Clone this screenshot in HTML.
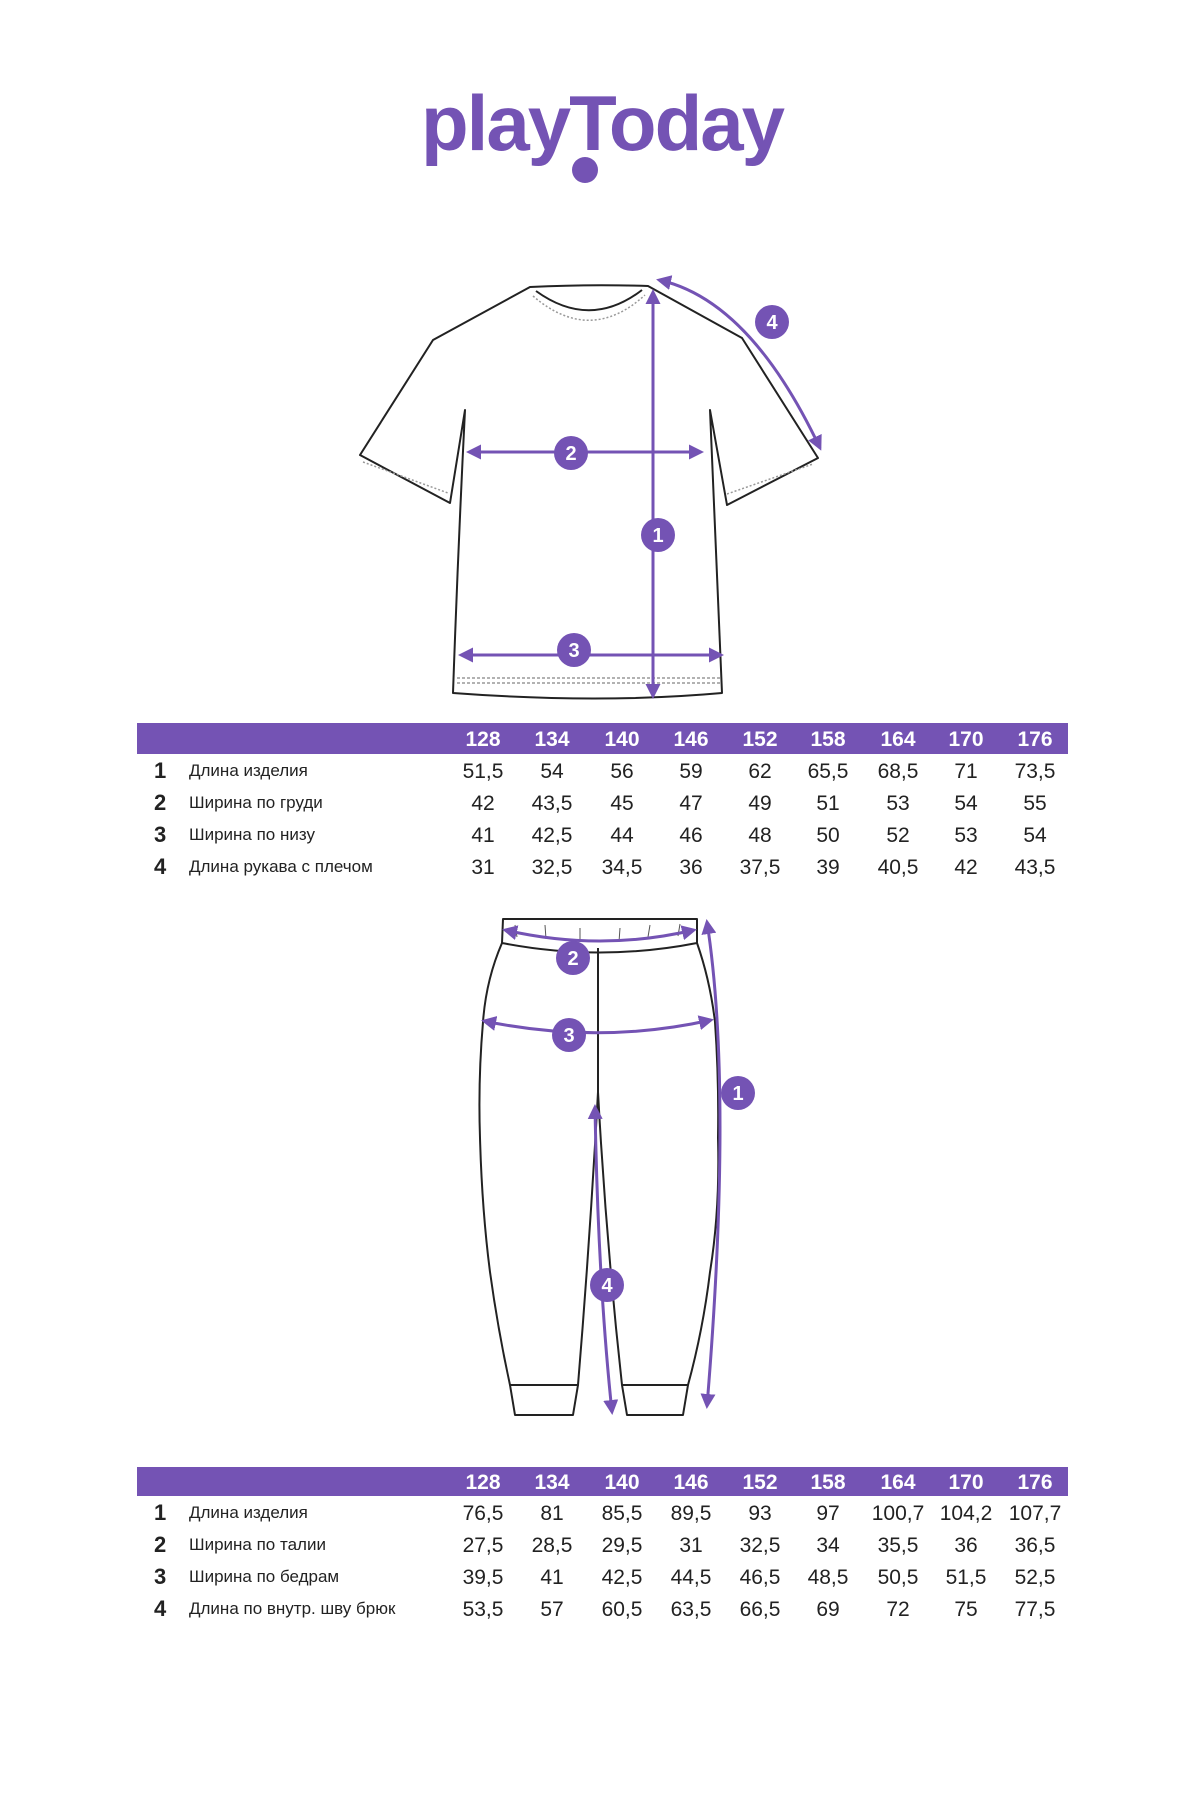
<!DOCTYPE html>
<html><head><meta charset="utf-8"><style>
html,body{margin:0;padding:0;background:#fff}
svg{display:block}
.h{font-family:"Liberation Sans",sans-serif;font-weight:bold;font-size:21px;fill:#fff;text-anchor:middle}
.v{font-family:"Liberation Sans",sans-serif;font-size:21px;fill:#222;text-anchor:middle}
.n{font-family:"Liberation Sans",sans-serif;font-weight:bold;font-size:22px;fill:#222}
.l{font-family:"Liberation Sans",sans-serif;font-size:17px;fill:#222}
.c{font-family:"Liberation Sans",sans-serif;font-weight:bold;font-size:20px;fill:#fff;text-anchor:middle}
.o{fill:none;stroke:#222;stroke-width:2;stroke-linejoin:round}
.p{fill:none;stroke:#7453b4;stroke-width:3}
</style></head><body>
<svg width="1199" height="1800" viewBox="0 0 1199 1800" xmlns="http://www.w3.org/2000/svg">
<defs>
<marker id="a" viewBox="0 0 10 10" refX="8" refY="5" markerWidth="5" markerHeight="5" orient="auto-start-reverse"><path d="M0,0 L10,5 L0,10 z" fill="#7453b4"/></marker>
</defs>
<!-- logo -->
<text x="602" y="150" text-anchor="middle" font-family="Liberation Sans,sans-serif" font-weight="bold" font-size="78" fill="#7453b4" letter-spacing="-2">playToday</text>
<circle cx="585" cy="170" r="13" fill="#7453b4"/>

<!-- shirt -->
<path class="o" d="M530,287 Q590,284 648,286 L742,338 L818,458 L727,505 L710,410 Q716,550 722,693 Q600,704 453,693 Q458,550 465,410 L450,503 L360,455 L433,340 Z"/>
<path class="o" d="M536,291 Q590,330 642,290" />
<path d="M533,296 Q590,345 645,295" fill="none" stroke="#999" stroke-width="1.5" stroke-dasharray="2 2"/>
<path d="M457,678 L720,678 M457,683 L720,683" fill="none" stroke="#999" stroke-width="1.5" stroke-dasharray="3 2"/>
<path d="M363,462 L448,493 M727,494 L813,464" fill="none" stroke="#999" stroke-width="1.5" stroke-dasharray="2 2"/>
<line class="p" x1="653" y1="292" x2="653" y2="696" marker-start="url(#a)" marker-end="url(#a)"/>
<line class="p" x1="469" y1="452" x2="701" y2="452" marker-start="url(#a)" marker-end="url(#a)"/>
<line class="p" x1="461" y1="655" x2="721" y2="655" marker-start="url(#a)" marker-end="url(#a)"/>
<path class="p" d="M659,280 Q750,300 820,448" marker-start="url(#a)" marker-end="url(#a)"/>
<circle cx="658" cy="535" r="17" fill="#7453b4"/><text class="c" x="658" y="542">1</text>
<circle cx="571" cy="453" r="17" fill="#7453b4"/><text class="c" x="571" y="460">2</text>
<circle cx="574" cy="650" r="17" fill="#7453b4"/><text class="c" x="574" y="657">3</text>
<circle cx="772" cy="322" r="17" fill="#7453b4"/><text class="c" x="772" y="329">4</text>

<!-- table 1 -->
<rect x="137" y="723" width="931" height="31" fill="#7453b4"/>
<g class="h"><text x="483" y="746">128</text><text x="552" y="746">134</text><text x="622" y="746">140</text><text x="691" y="746">146</text><text x="760" y="746">152</text><text x="828" y="746">158</text><text x="898" y="746">164</text><text x="966" y="746">170</text><text x="1035" y="746">176</text></g>
<g class="n"><text x="154" y="778">1</text><text x="154" y="810">2</text><text x="154" y="842">3</text><text x="154" y="874">4</text></g>
<g class="l"><text x="189" y="776">Длина изделия</text><text x="189" y="808">Ширина по груди</text><text x="189" y="840">Ширина по низу</text><text x="189" y="872">Длина рукава с плечом</text></g>
<g class="v">
<text x="483" y="778">51,5</text><text x="552" y="778">54</text><text x="622" y="778">56</text><text x="691" y="778">59</text><text x="760" y="778">62</text><text x="828" y="778">65,5</text><text x="898" y="778">68,5</text><text x="966" y="778">71</text><text x="1035" y="778">73,5</text>
<text x="483" y="810">42</text><text x="552" y="810">43,5</text><text x="622" y="810">45</text><text x="691" y="810">47</text><text x="760" y="810">49</text><text x="828" y="810">51</text><text x="898" y="810">53</text><text x="966" y="810">54</text><text x="1035" y="810">55</text>
<text x="483" y="842">41</text><text x="552" y="842">42,5</text><text x="622" y="842">44</text><text x="691" y="842">46</text><text x="760" y="842">48</text><text x="828" y="842">50</text><text x="898" y="842">52</text><text x="966" y="842">53</text><text x="1035" y="842">54</text>
<text x="483" y="874">31</text><text x="552" y="874">32,5</text><text x="622" y="874">34,5</text><text x="691" y="874">36</text><text x="760" y="874">37,5</text><text x="828" y="874">39</text><text x="898" y="874">40,5</text><text x="966" y="874">42</text><text x="1035" y="874">43,5</text>
</g>

<!-- pants -->
<path class="o" d="M503,919 L697,919 L697,943 Q600,962 502,943 Z"/>
<path class="o" d="M502,943 Q486,980 483,1022 Q478,1080 480,1138 Q482,1210 490,1272 Q498,1330 510,1385 L578,1385 Q590,1240 598,1092 L598,948"/>
<path class="o" d="M598,1092 Q606,1240 622,1385 L688,1385 Q703,1330 710,1272 Q720,1210 718,1138 Q719,1080 715,1022 Q710,980 697,943"/>
<path class="o" d="M510,1385 L515,1415 L573,1415 L578,1385 M622,1385 L627,1415 L683,1415 L688,1385"/>
<path d="M515,925 l2,12 M545,925 l1,14 M580,928 l0,14 M620,928 l-1,14 M650,925 l-2,12 M680,924 l-2,12" stroke="#555" stroke-width="1"/>
<path class="p" d="M707,922 Q733,1090 707,1406" marker-start="url(#a)" marker-end="url(#a)"/>
<path class="p" d="M505,930 Q600,952 694,930" marker-start="url(#a)" marker-end="url(#a)"/>
<path class="p" d="M484,1021 Q600,1045 711,1020" marker-start="url(#a)" marker-end="url(#a)"/>
<path class="p" d="M595,1107 Q598,1280 612,1412" marker-start="url(#a)" marker-end="url(#a)"/>
<circle cx="738" cy="1093" r="17" fill="#7453b4"/><text class="c" x="738" y="1100">1</text>
<circle cx="573" cy="958" r="17" fill="#7453b4"/><text class="c" x="573" y="965">2</text>
<circle cx="569" cy="1035" r="17" fill="#7453b4"/><text class="c" x="569" y="1042">3</text>
<circle cx="607" cy="1285" r="17" fill="#7453b4"/><text class="c" x="607" y="1292">4</text>

<!-- table 2 -->
<rect x="137" y="1467" width="931" height="29" fill="#7453b4"/>
<g class="h"><text x="483" y="1489">128</text><text x="552" y="1489">134</text><text x="622" y="1489">140</text><text x="691" y="1489">146</text><text x="760" y="1489">152</text><text x="828" y="1489">158</text><text x="898" y="1489">164</text><text x="966" y="1489">170</text><text x="1035" y="1489">176</text></g>
<g class="n"><text x="154" y="1520">1</text><text x="154" y="1552">2</text><text x="154" y="1584">3</text><text x="154" y="1616">4</text></g>
<g class="l"><text x="189" y="1518">Длина изделия</text><text x="189" y="1550">Ширина по талии</text><text x="189" y="1582">Ширина по бедрам</text><text x="189" y="1614">Длина по внутр. шву брюк</text></g>
<g class="v">
<text x="483" y="1520">76,5</text><text x="552" y="1520">81</text><text x="622" y="1520">85,5</text><text x="691" y="1520">89,5</text><text x="760" y="1520">93</text><text x="828" y="1520">97</text><text x="898" y="1520">100,7</text><text x="966" y="1520">104,2</text><text x="1035" y="1520">107,7</text>
<text x="483" y="1552">27,5</text><text x="552" y="1552">28,5</text><text x="622" y="1552">29,5</text><text x="691" y="1552">31</text><text x="760" y="1552">32,5</text><text x="828" y="1552">34</text><text x="898" y="1552">35,5</text><text x="966" y="1552">36</text><text x="1035" y="1552">36,5</text>
<text x="483" y="1584">39,5</text><text x="552" y="1584">41</text><text x="622" y="1584">42,5</text><text x="691" y="1584">44,5</text><text x="760" y="1584">46,5</text><text x="828" y="1584">48,5</text><text x="898" y="1584">50,5</text><text x="966" y="1584">51,5</text><text x="1035" y="1584">52,5</text>
<text x="483" y="1616">53,5</text><text x="552" y="1616">57</text><text x="622" y="1616">60,5</text><text x="691" y="1616">63,5</text><text x="760" y="1616">66,5</text><text x="828" y="1616">69</text><text x="898" y="1616">72</text><text x="966" y="1616">75</text><text x="1035" y="1616">77,5</text>
</g>
</svg>
</body></html>
